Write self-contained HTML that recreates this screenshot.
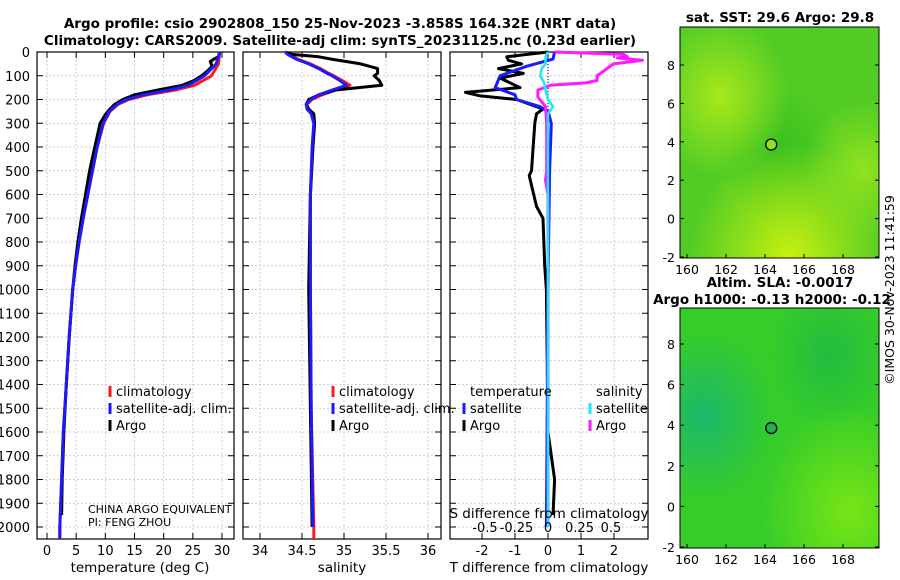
<!DOCTYPE html>
<html><head><meta charset="utf-8"><style>
body{margin:0;background:#fff}
svg{display:block;font-family:"DejaVu Sans","Liberation Sans",sans-serif}
</style></head><body>
<svg id="c" width="900" height="580" viewBox="0 0 900 580" xmlns="http://www.w3.org/2000/svg">
<defs>
<radialGradient id="g1a" cx="0.2" cy="0.3" r="0.35"><stop offset="0" stop-color="#a8e81c"/><stop offset="1" stop-color="#a8e81c" stop-opacity="0"/></radialGradient>
<radialGradient id="g1b" cx="0.55" cy="1.0" r="0.5"><stop offset="0" stop-color="#c8f010"/><stop offset="1" stop-color="#c8f010" stop-opacity="0"/></radialGradient>
<radialGradient id="g1c" cx="0.92" cy="0.62" r="0.3"><stop offset="0" stop-color="#92e220"/><stop offset="1" stop-color="#92e220" stop-opacity="0"/></radialGradient>
<radialGradient id="g1d" cx="0.5" cy="0.55" r="0.3"><stop offset="0" stop-color="#38c020"/><stop offset="1" stop-color="#38c020" stop-opacity="0"/></radialGradient>
<radialGradient id="g2a" cx="0.12" cy="0.45" r="0.35"><stop offset="0" stop-color="#1cb86a"/><stop offset="1" stop-color="#1cb86a" stop-opacity="0"/></radialGradient>
<radialGradient id="g2b" cx="0.85" cy="0.85" r="0.45"><stop offset="0" stop-color="#78e616"/><stop offset="1" stop-color="#78e616" stop-opacity="0"/></radialGradient>
<radialGradient id="g2c" cx="0.75" cy="0.2" r="0.3"><stop offset="0" stop-color="#22bc40"/><stop offset="1" stop-color="#22bc40" stop-opacity="0"/></radialGradient>
</defs>
<g font-weight="bold" font-size="13.5" text-anchor="middle" fill="#000">
<text x="340" y="28">Argo profile: csio 2902808_150 25-Nov-2023 -3.858S 164.32E (NRT data)</text>
<text x="340" y="45">Climatology: CARS2009. Satellite-adj clim: synTS_20231125.nc (0.23d earlier)</text>
<text x="780" y="22">sat. SST: 29.6 Argo: 29.8</text>
<text x="780" y="287">Altim. SLA: -0.0017</text>
<text x="772" y="304">Argo h1000: -0.13 h2000: -0.12</text>
</g>
<text transform="translate(894,290) rotate(-90)" text-anchor="middle" font-size="12.5">©IMOS 30-Nov-2023 11:41:59</text>
<g id="plots"></g>
</svg>
<script>
// ---- data ----
const tDepth=[0,20,30,40,60,80,100,120,140,160,180,200,220,240,260,300,400,500,600,700,800,900,1000,1200,1400,1600,1800,1950];
const tArgo=[29.6,29.4,28.6,28.0,28.3,27.5,26.5,25.2,23.2,19.0,15.0,13.0,11.6,10.8,10.1,9.1,8.2,7.3,6.6,5.9,5.3,4.8,4.4,3.8,3.3,2.9,2.6,2.5];
const cDepth=[0,50,100,140,160,180,200,220,250,300,400,500,600,700,800,900,1000,1200,1400,1600,1800,2000,2050];
const tClim=[29.6,29.4,28.2,25.3,22.0,17.2,14.0,12.2,10.8,9.7,8.6,7.8,7.0,6.2,5.5,4.9,4.4,3.8,3.3,2.8,2.5,2.2,2.2];
const tSat=[29.6,29.0,27.0,24.2,21.0,16.5,13.6,12.0,10.7,9.6,8.6,7.8,7.0,6.2,5.5,4.9,4.4,3.8,3.3,2.8,2.5,2.2,2.2];
const sDepth=[0,10,20,30,50,70,90,100,120,140,160,180,200,220,240,260,300,400,600,1000,1500,2000];
const sArgo=[34.3,34.38,34.7,34.85,35.2,35.4,35.4,35.36,35.42,35.45,34.9,34.7,34.58,34.55,34.58,34.64,34.65,34.63,34.6,34.58,34.6,34.62];
const sClim=[34.3,34.35,34.4,34.45,34.6,34.72,34.82,34.88,34.98,35.07,34.9,34.74,34.62,34.56,34.57,34.62,34.65,34.63,34.6,34.6,34.61,34.64];
const sSat=[34.3,34.33,34.38,34.43,34.58,34.7,34.8,34.86,34.95,35.03,34.86,34.7,34.6,34.55,34.56,34.61,34.64,34.62,34.6,34.6,34.61,34.63];
const scDepth=[2000,2050];
const scVals=[34.64,34.64];
const dDepth=[0,20,35,50,70,90,110,150,170,185,200,240,260,300,500,520,650,700,900,1000,1600,1800,1950];
const dTArgo=[0.0,-1.25,-1.2,-0.8,-1.5,-0.75,-1.45,-0.85,-2.5,-2.05,-0.95,-0.15,-0.35,-0.4,-0.5,-0.57,-0.35,-0.15,-0.1,-0.05,0.0,0.2,0.15];
const bDepth=[0,30,60,100,150,180,200,230,250,300,500,1000,2000];
const dTSat=[0.2,0.15,-0.65,-1.45,-1.6,-1.0,-0.95,-0.25,0.0,0.1,0.05,0.0,-0.05];
const mDepth=[0,10,20,25,35,50,100,120,130,140,160,190,230,300,500,540,600,2000];
const dSArgo=[0.05,0.6,0.63,0.55,0.75,0.52,0.39,0.39,0.3,0.02,-0.08,-0.08,-0.02,-0.01,-0.01,-0.02,0.0,0.0];
const cyDepth=[0,20,50,70,100,130,160,200,230,260,400,2000];
const dSSat=[0.0,-0.02,-0.02,-0.05,-0.06,-0.03,-0.02,0.0,0.04,0.0,0.0,0.0];
const depthTicks=[0,100,200,300,400,500,600,700,800,900,1000,1100,1200,1300,1400,1500,1600,1700,1800,1900,2000];
const tTicks=[0,5,10,15,20,25,30];
const sTicks=[34,34.5,35,35.5,36];
const dTTicks=[-2,-1,0,1,2];
const dSTicks=[-0.5,-0.25,0,0.25,0.5];
const lonTicks=[160,162,164,166,168];
const latTicks=[-2,0,2,4,6,8];
const argoLon=164.32, argoLat=3.858;

const NS='http://www.w3.org/2000/svg';
const root=document.getElementById('plots');
function el(tag,attrs,parent,txt){const e=document.createElementNS(NS,tag);for(const k in attrs)e.setAttribute(k,attrs[k]);if(txt!==undefined)e.textContent=txt;(parent||root).appendChild(e);return e;}
const yD=d=>52+d*0.2375;
function lin(d0,d1,r0,r1){return v=>r0+(v-d0)*(r1-r0)/(d1-d0);}
const P=[{x0:37,x1:234,sc:lin(0,30,47,222),ticks:tTicks,name:'temperature-panel'},
 {x0:243,x1:441,sc:lin(34,36,260,428),ticks:sTicks,name:'salinity-panel'},
 {x0:450,x1:648,sc:lin(-2,2,482,614),ticks:dTTicks,name:'difference-panel'}];
const sS=lin(0,0.5,548,611);
const Y0=52,Y1=539;
P.forEach((p,i)=>{
 const g=el('g',{});
 
 
 p.g=g;
 depthTicks.forEach(d=>{const l=el('line',{x1:p.x0,x2:p.x1,y1:yD(d),y2:yD(d),stroke:'#b8c0e0','stroke-width':0.8,'stroke-dasharray':'2,2'},g);
  
  el('line',{x1:p.x0,x2:p.x0+6,y1:yD(d),y2:yD(d),stroke:'#000'},g);el('line',{x1:p.x1-6,x2:p.x1,y1:yD(d),y2:yD(d),stroke:'#000'},g);});
 p.ticks.forEach(t=>{const x=p.sc(t);const l=el('line',{x1:x,x2:x,y1:Y0,y2:Y1,stroke:'#b8c0e0','stroke-width':0.8,'stroke-dasharray':'2,2'},g);
  
  el('line',{x1:x,x2:x,y1:Y1-6,y2:Y1,stroke:'#000'},g);el('line',{x1:x,x2:x,y1:Y0,y2:Y0+6,stroke:'#000'},g);
  const tx=el('text',{x:x,y:555,'text-anchor':'middle','font-size':13},g,String(t));
  });
 const r=el('rect',{x:p.x0,y:Y0,width:p.x1-p.x0,height:Y1-Y0,fill:'none',stroke:'#000','stroke-width':1.2},g);
 
});
depthTicks.forEach(d=>{const t=el('text',{x:30,y:yD(d)+5,'text-anchor':'end','font-size':13},root,String(d));
 });
[['temperature (deg C)',140],['salinity',342],['T difference from climatology',549]].forEach(([s,x])=>{
 const t=el('text',{x:x,y:572,'text-anchor':'middle','font-size':13.5},root,s);
 });
function line(ds,vs,sc,color,name,g,w){const pts=ds.map((d,i)=>sc(vs[i]).toFixed(1)+','+yD(d).toFixed(1)).join(' ');
 const l=el('polyline',{points:pts,fill:'none',stroke:color,'stroke-width':w||3,'stroke-linejoin':'round'},g);
 }
// panel 1
line(cDepth,tClim,P[0].sc,'#ff1a1a','temp-climatology-line',P[0].g);
line(tDepth,tArgo,P[0].sc,'#000','temp-argo-line',P[0].g);
line(cDepth,tSat,P[0].sc,'#1a1aff','temp-satellite-line',P[0].g);
// panel 2
line(sDepth,sClim,P[1].sc,'#ff1a1a','sal-climatology-line',P[1].g);
line(sDepth,sArgo,P[1].sc,'#000','sal-argo-line',P[1].g);
line(sDepth,sSat,P[1].sc,'#1a1aff','sal-satellite-line',P[1].g);
line(scDepth,scVals,P[1].sc,'#ff1a1a','sal-climatology-bottom',P[1].g);
// panel 3
const zl=el('line',{x1:548,x2:548,y1:Y0,y2:120,stroke:'#000','stroke-dasharray':'1,2'},P[2].g);

line(dDepth,dTArgo,P[2].sc,'#000','tdiff-argo-line',P[2].g);
line(bDepth,dTSat,P[2].sc,'#1a1aff','tdiff-satellite-line',P[2].g);
line(mDepth,dSArgo,sS,'#ff1aff','sdiff-argo-line',P[2].g);
line(cyDepth,dSSat,sS,'#1ae8ff','sdiff-satellite-line',P[2].g,2.5);
dSTicks.forEach(t=>{const tx=el('text',{x:sS(t),y:532,'text-anchor':'middle','font-size':13},P[2].g,String(t));
 });
const st=el('text',{x:549,y:518,'text-anchor':'middle','font-size':13.5},P[2].g,'S difference from climatology');

// legends
function leg(x,y,color,label){const g=el('g',{});
 
 el('line',{x1:x,x2:x,y1:y-10,y2:y+1,stroke:color,'stroke-width':3},g);
 el('text',{x:x+6,y:y,'font-size':13},g,label);}
[[0,110],[1,333]].forEach(([i,x])=>{leg(x,396,'#ff1a1a','climatology');leg(x,413,'#1a1aff','satellite-adj. clim.');leg(x,430,'#000','Argo');});
const lt=el('text',{x:470,y:396,'font-size':13},root,'temperature');
const ls=el('text',{x:596,y:396,'font-size':13},root,'salinity');
leg(464,413,'#1a1aff','satellite');leg(464,430,'#000','Argo');leg(590,413,'#1ae8ff','satellite');leg(590,430,'#ff1aff','Argo');
const c1=el('text',{x:88,y:513,'font-size':11},root,'CHINA ARGO EQUIVALENT');
const c2=el('text',{x:88,y:526,'font-size':11},root,'PI: FENG ZHOU');
// maps
function map(y0,y1,base,grads,name,lat8,dot){
 const x0=680,x1=879;const g=el('g',{});
 
 const lx=lin(160,168,687,843), ly=lin(8,-2,lat8,y1-1);
 el('rect',{x:x0,y:y0,width:x1-x0,height:y1-y0,fill:base},g);
 grads.forEach(id=>el('rect',{x:x0,y:y0,width:x1-x0,height:y1-y0,fill:'url(#'+id+')'},g));
 el('rect',{x:x0,y:y0,width:x1-x0,height:y1-y0,fill:'none',stroke:'#000'},g);
 lonTicks.forEach(t=>{el('line',{x1:lx(t),x2:lx(t),y1:y1,y2:y1-4,stroke:'#000'},g);
  const tx=el('text',{x:lx(t),y:y1+16,'text-anchor':'middle','font-size':12.5},g,String(t));
  });
 latTicks.forEach(t=>{el('line',{x1:x0,x2:x0+4,y1:ly(t),y2:ly(t),stroke:'#000'},g);el('line',{x1:x1,x2:x1-4,y1:ly(t),y2:ly(t),stroke:'#000'},g);
  const tx=el('text',{x:x0-5,y:ly(t)+5,'text-anchor':'end','font-size':12.5},g,String(t));
  });
 const c=el('circle',{cx:lx(argoLon),cy:ly(argoLat),r:5.5,fill:dot,stroke:'#000','stroke-width':1.3},g);
 
}
map(27,258,'#52cc24',['g1d','g1a','g1b','g1c'],'sst-map',65,'#8ee02a');
map(308,548,'#36cc2a',['g2a','g2b','g2c'],'sla-map',344,'#22b050');
</script>
</body></html>
